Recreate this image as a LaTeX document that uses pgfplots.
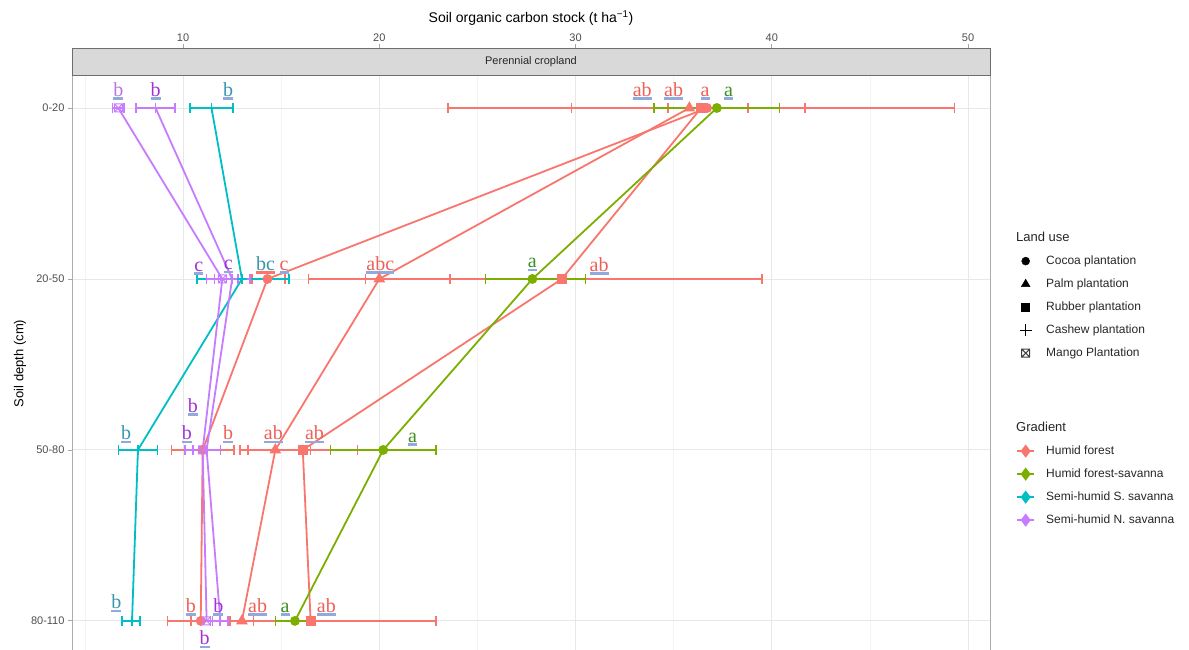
\documentclass[border=0pt]{standalone}
\usepackage{pgfplots}
\pgfplotsset{compat=1.18}
\usepackage{pgfplotstable}
\usepackage{fontspec}
\setmainfont{Liberation Sans}
\newfontfamily\labfont{Liberation Serif}

\definecolor{hf}{HTML}{F8766D}
\definecolor{hfs}{HTML}{7CAE00}
\definecolor{shs}{HTML}{00BFC4}
\definecolor{shn}{HTML}{C77CFF}
\definecolor{lhf}{HTML}{EE5F57}
\definecolor{lhfs}{HTML}{3E8E22}
\definecolor{lshs}{HTML}{3796AE}
\definecolor{lshn}{HTML}{A033D6}
\definecolor{lshn2}{HTML}{B774E6}
\definecolor{ulb}{HTML}{8FAADC}
\definecolor{stripfill}{HTML}{D9D9D9}
\definecolor{stripdraw}{HTML}{6E6E6E}
\definecolor{txt}{HTML}{4D4D4D}

\pgfdeclareplotmark{boxx}{%
 \pgfpathrectangle{\pgfqpoint{-\pgfplotmarksize}{-\pgfplotmarksize}}{\pgfqpoint{2\pgfplotmarksize}{2\pgfplotmarksize}}%
 \pgfpathmoveto{\pgfqpoint{-\pgfplotmarksize}{-\pgfplotmarksize}}\pgfpathlineto{\pgfqpoint{\pgfplotmarksize}{\pgfplotmarksize}}%
 \pgfpathmoveto{\pgfqpoint{-\pgfplotmarksize}{\pgfplotmarksize}}\pgfpathlineto{\pgfqpoint{\pgfplotmarksize}{-\pgfplotmarksize}}%
 \pgfusepathqstroke}

\newlength\labw
\newcommand\lab[3]{\settowidth\labw{#3}\rlap{\textcolor{#2}{\rule[-3.5pt]{\labw}{2.5pt}}}\textcolor{#1}{#3}}

% x = mean SOC stock, y = depth class (1..4), ep/em = error plus/minus
\pgfplotstableread{
x y ep em
36.7 1 2.1 2.0
14.3 2 0.9 0.8
11.0 3 1.6 1.6
10.9 4 0.5 0.5
}\RA
\pgfplotstableread{
x y ep em
35.8 1 5.9 6.0
20.0 2 3.6 3.6
14.7 3 1.8 1.8
13.0 4 0.6 0.6
}\RB
\pgfplotstableread{
x y ep em
36.4 1 12.9 12.9
29.3 2 10.2 10.0
16.1 3 2.8 2.8
16.5 4 6.4 7.3
}\RC
\pgfplotstableread{
x y ep em
37.2 1 3.2 3.2
27.8 2 2.7 2.4
20.2 3 2.7 2.7
15.7 4 1.0 1.0
}\GG
\pgfplotstableread{
x y ep em
11.45 1 1.1 1.1
13.0 2 2.4 2.3
7.7 3 1.0 1.0
7.4 4 0.4 0.5
}\CC
\pgfplotstableread{
x y ep em
6.7 1 0.3 0.3
12.0 2 0.8 0.8
11.0 3 0.9 0.9
11.2 4 0.3 0.3
}\PA
\pgfplotstableread{
x y ep em
8.6 1 1.0 1.0
12.5 2 0.9 0.9
11.2 3 0.7 0.7
11.9 4 0.4 0.4
}\PB

\pgfplotsset{ser/.style={color=#1, line width=1.8pt, mark size=4pt, forget plot,
  mark options={solid, fill=#1},
  error bars/x dir=both, error bars/x explicit,
  error bars/error mark=|,
  error bars/error bar style={line width=1.5pt, color=#1},
  error bars/error mark options={line width=1.5pt, mark size=5pt, color=#1}}}
\tikzset{lt/.style={anchor=base, inner sep=0pt, font=\labfont\fontsize{20}{20}\selectfont}}

\begin{document}
\begin{tikzpicture}
\useasboundingbox (0,0) rectangle (1189pt,649pt);
\begin{axis}[
 at={(72pt,-3pt)}, anchor=south west,
 scale only axis, width=918pt, height=577pt,
 xmin=4.34, xmax=51.12, ymin=0.807, ymax=4.182, y dir=reverse,
 xtick={10,20,30,40,50}, minor xtick={5,15,25,35,45},
 ytick={1,2,3,4}, yticklabels={0-20,20-50,50-80,80-110},
 xticklabel pos=upper, ytick pos=left,
 xmajorgrids, xminorgrids, ymajorgrids,
 major grid style={draw=gray!18, line width=0.9pt},
 minor grid style={draw=gray!9, line width=0.6pt},
 axis line style={draw=gray!65, line width=0.8pt},
 x tick style={draw=none}, y tick style={draw=gray!70, line width=0.8pt},
 tick align=outside, major tick length=4pt,
 ticklabel style={font=\fontsize{11}{13}\selectfont, text=txt},
 /pgf/number format/assume math mode=true,
 xticklabel style={yshift=26pt},
 ylabel={Soil depth (cm)},
 ylabel style={font=\fontsize{13}{15}\selectfont, at={(axis description cs:-0.0566,0.5)}, anchor=center},
 clip=false,
 legend style={at={(1.025,0.735)}, anchor=north west, draw=none, fill=none,
   font=\fontsize{12}{14}\selectfont, text=black!85, row sep=7pt,
   nodes={text height=9pt, text depth=3pt, inner sep=2pt},
   /tikz/every odd column/.append style={column sep=9pt}},
 legend cell align=left,
]
\addplot+[ser=hf, mark=square*] table[x=x, y=y, x error plus=ep, x error minus=em] {\RC};
\addplot+[ser=hf, mark=triangle*, mark size=5pt] table[x=x, y=y, x error plus=ep, x error minus=em] {\RB};
\addplot+[ser=hf, mark=*] table[x=x, y=y, x error plus=ep, x error minus=em] {\RA};
\addplot+[ser=hfs, mark=*] table[x=x, y=y, x error plus=ep, x error minus=em] {\GG};
\addplot+[ser=shs, mark=+, mark size=5pt] table[x=x, y=y, x error plus=ep, x error minus=em] {\CC};
\addplot+[ser=shn, mark=boxx, mark options={fill=none, line width=1pt}] table[x=x, y=y, x error plus=ep, x error minus=em] {\PA};
\addplot+[ser=shn, mark=+, mark size=5pt] table[x=x, y=y, x error plus=ep, x error minus=em] {\PB};

% legend
\addlegendimage{empty legend}\addlegendentry{\hspace*{-30pt}\fontsize{13}{15}\selectfont Land use}
\addlegendimage{only marks, mark=*, black, mark size=4pt}\addlegendentry{Cocoa plantation}
\addlegendimage{only marks, mark=triangle*, black, mark size=5pt}\addlegendentry{Palm plantation}
\addlegendimage{only marks, mark=square*, black, mark size=4pt}\addlegendentry{Rubber plantation}
\addlegendimage{only marks, mark=+, black, mark size=6pt, line width=0.8pt}\addlegendentry{Cashew plantation}
\addlegendimage{only marks, mark=boxx, black!75, mark size=4pt, line width=1pt}\addlegendentry{Mango Plantation}
\addlegendimage{empty legend}\addlegendentry{}
\addlegendimage{empty legend}\addlegendentry[text height=15pt]{}
\addlegendimage{empty legend}\addlegendentry{\hspace*{-30pt}\fontsize{13}{15}\selectfont Gradient}
\addlegendimage{hf, line width=2pt, mark=diamond*, mark size=5pt}\addlegendentry{Humid forest}
\addlegendimage{hfs, line width=2pt, mark=diamond*, mark size=5pt}\addlegendentry{Humid forest-savanna}
\addlegendimage{shs, line width=2pt, mark=diamond*, mark size=5pt}\addlegendentry{Semi-humid S. savanna}
\addlegendimage{shn, line width=2pt, mark=diamond*, mark size=5pt}\addlegendentry{Semi-humid N. savanna}

% strip, title, ticks
\draw[fill=stripfill, draw=stripdraw, line width=0.8pt] (axis description cs:0,1) rectangle ([yshift=27pt]axis description cs:1,1);
\node[font=\fontsize{11}{13}\selectfont, text=black!85] at ([yshift=13.5pt]axis description cs:0.5,1) {Perennial cropland};
\node[font=\fontsize{14}{16}\selectfont] at ([yshift=57pt]axis description cs:0.5,1) {Soil organic carbon stock (t ha\textsuperscript{−1})};
\pgfplotsinvokeforeach{10,20,30,40,50}{\draw[gray!70, line width=0.8pt] ([yshift=27pt]axis cs:#1,0.807) -- ([yshift=31pt]axis cs:#1,0.807);}

% significance letters
\node[lt] at (axis cs:6.7,0.93) {\lab{lshn2}{ulb}{b}};
\node[lt] at (axis cs:8.6,0.93) {\lab{lshn}{ulb}{b}};
\node[lt] at (axis cs:12.3,0.93) {\lab{lshs}{ulb}{b}};
\node[lt] at (axis cs:33.4,0.93) {\lab{lhf}{ulb}{ab}};
\node[lt] at (axis cs:35.0,0.93) {\lab{lhf}{ulb}{ab}};
\node[lt] at (axis cs:36.6,0.93) {\lab{lhf}{ulb}{a}};
\node[lt] at (axis cs:37.8,0.93) {\lab{lhfs}{ulb}{a}};

\node[lt] at (axis cs:10.8,1.955) {\lab{lshn}{ulb}{c}};
\node[lt] at (axis cs:12.3,1.945) {\lab{lshn}{ulb}{c}};
\node[lt] at (axis cs:14.2,1.95) {\lab{lshs}{hf}{bc}};
\node[lt] at (axis cs:15.15,1.95) {\lab{lhf}{ulb}{c}};
\node[lt] at (axis cs:20.05,1.95) {\lab{lhf}{ulb}{abc}};
\node[lt] at (axis cs:27.8,1.935) {\lab{lhfs}{ulb}{a}};
\node[lt] at (axis cs:31.2,1.955) {\lab{lhf}{ulb}{ab}};

\node[lt] at (axis cs:7.1,2.94) {\lab{lshs}{ulb}{b}};
\node[lt] at (axis cs:10.5,2.78) {\lab{lshn}{ulb}{b}};
\node[lt] at (axis cs:10.2,2.94) {\lab{lshn}{ulb}{b}};
\node[lt] at (axis cs:12.3,2.94) {\lab{lhf}{ulb}{b}};
\node[lt] at (axis cs:14.6,2.94) {\lab{lhf}{ulb}{ab}};
\node[lt] at (axis cs:16.7,2.94) {\lab{lhf}{ulb}{ab}};
\node[lt] at (axis cs:21.7,2.955) {\lab{lhfs}{ulb}{a}};

\node[lt] at (axis cs:6.6,3.93) {\lab{lshs}{ulb}{b}};
\node[lt] at (axis cs:10.4,3.95) {\lab{lhf}{ulb}{b}};
\node[lt] at (axis cs:11.8,3.95) {\lab{lshn}{ulb}{b}};
\node[lt] at (axis cs:13.8,3.95) {\lab{lhf}{ulb}{ab}};
\node[lt] at (axis cs:15.2,3.95) {\lab{lhfs}{ulb}{a}};
\node[lt] at (axis cs:17.3,3.95) {\lab{lhf}{ulb}{ab}};
\node[lt] at (axis cs:11.1,4.14) {\lab{lshn}{ulb}{b}};
\end{axis}
\end{tikzpicture}
\end{document}
